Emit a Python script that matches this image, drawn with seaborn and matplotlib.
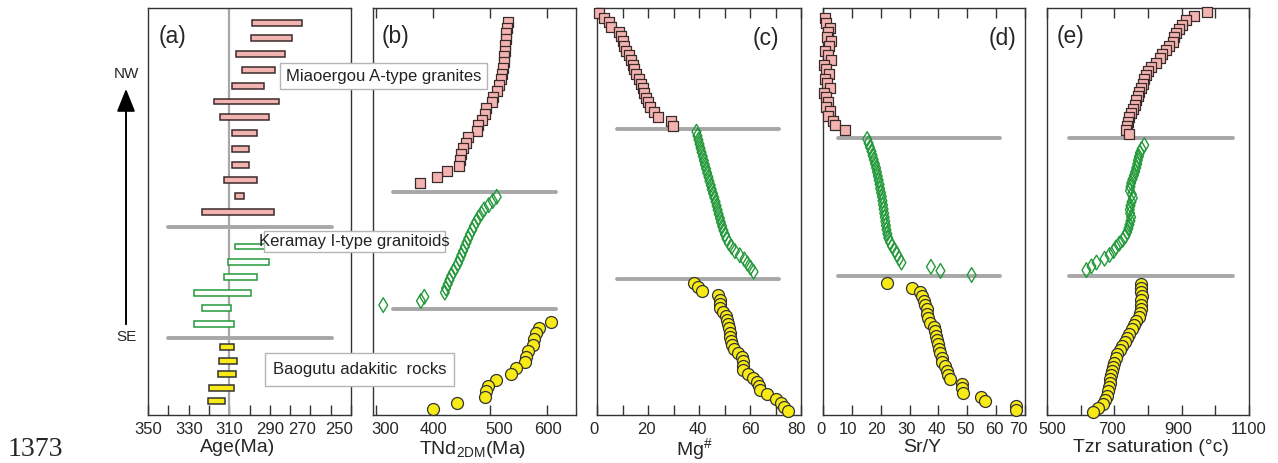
import numpy as np
import pandas as pd
import matplotlib
matplotlib.use("Agg")
import matplotlib.pyplot as plt
import seaborn as sns
from matplotlib.patches import Rectangle, FancyArrowPatch
from matplotlib.transforms import ScaledTranslation

sns.set_theme(style="white")
plt.rcParams["font.family"] = ["Liberation Sans", "DejaVu Sans"]
plt.rcParams["mathtext.fontset"] = "custom"
plt.rcParams["mathtext.rm"] = "Liberation Sans"
plt.rcParams["mathtext.it"] = "Liberation Sans:italic"

# ---------------- data ----------------
group_names = ["Miaoergou A-type granites", "Keramay I-type granitoids", "Baogutu adakitic  rocks"]

# (a) zircon ages (Ma): older and younger ends of each bar, top to bottom
age_old_mia = [298.6, 299.4, 306.5, 303.7, 308.8, 317.5, 314.7, 308.8, 308.8, 308.8, 312.6, 307.0, 323.4]
age_young_mia = [274.3, 279.2, 282.5, 287.4, 292.7, 285.6, 290.5, 296.5, 300.4, 300.4, 296.5, 302.7, 287.8]
age_old_ker = [307.0, 310.4, 312.4, 327.3, 323.4, 327.3]
age_young_ker = [290.7, 290.2, 296.3, 299.4, 309.0, 307.5]
age_old_bao = [314.5, 314.9, 315.4, 319.8, 320.3]
age_young_bao = [307.5, 306.0, 306.8, 307.8, 312.2]
age_ref = 310

# (b) TNd2DM (Ma)
tnd_mia = [531, 530, 529, 528, 527, 526, 525, 524, 523, 522, 520, 516, 512, 505, 503,
           494, 491, 486, 480, 478, 462, 458, 452, 449, 447, 446, 425, 407, 377]
tnd_ker = [512, 505, 498, 490, 485, 480, 476, 472, 469, 465, 462, 459, 456, 453,
           450, 447, 444, 440, 436, 432, 429, 426, 423, 421, 385, 379, 313]
tnd_bao = [607, 586, 580, 577, 575, 567, 564, 562, 545, 537, 511, 497, 493, 491, 443, 400]

# (c) Mg#
mg_mia = [0.8, 2.8, 4.7, 5.4, 8.7, 9.4, 10.0, 10.7, 11.5, 12.6, 13.3, 14.0, 14.6,
          15.3, 16.5, 17.3, 17.9, 18.6, 19.2, 19.9, 20.6, 22.5, 23.8, 29.1, 29.8]
mg_ker = [39.0, 39.4, 39.8, 40.2, 40.6, 41.0, 41.5, 41.9, 42.3, 42.8, 43.2, 43.7,
          44.1, 44.6, 45.0, 45.5, 46.0, 46.5, 46.9, 47.3, 47.7, 48.2, 48.6, 49.1,
          49.6, 50.2, 50.8, 51.7, 52.8, 54.1, 56.0, 57.8, 59.0, 60.2, 61.4]
mg_bao = [37.9, 39.5, 41.2, 47.5, 48.2, 48.3, 48.4, 49.6, 50.7, 51.0, 51.2, 51.6,
          52.0, 52.2, 52.5, 53.0, 53.8, 55.3, 56.8, 57.1, 57.3, 57.4, 59.3, 61.0,
          62.9, 63.6, 63.9, 66.8, 70.3, 72.0, 73.5, 74.8]

# (d) Sr/Y
sry_mia = [0.8, 1.2, 2.3, 1.9, 1.5, 2.8, 2.2, 0.6, 1.7, 2.6, 0.4, 1.1, 2.0, 0.8,
           1.4, 2.3, 0.5, 1.0, 1.6, 0.9, 2.4, 1.7, 3.5, 4.3, 7.7]
sry_ker = [15.3, 15.8, 16.3, 16.8, 17.2, 17.6, 18.0, 18.4, 18.7, 19.0, 19.3, 19.6,
           19.8, 20.1, 20.4, 20.6, 20.8, 21.0, 21.2, 21.4, 21.6, 21.8, 22.0, 22.3,
           22.6, 23.2, 23.9, 24.9, 25.6, 26.4, 27.2, 37.4, 40.7, 51.5]
sry_bao = [22.3, 30.7, 33.6, 34.3, 34.9, 35.3, 35.9, 36.1, 36.4, 37.0, 38.4, 38.8,
           39.3, 39.6, 39.9, 40.2, 40.7, 41.1, 41.4, 42.2, 42.8, 43.4, 43.9, 48.2,
           48.3, 48.4, 54.6, 56.3, 66.8, 67.0]

# (e) Zircon saturation temperature (°C)
tzr_mia = [976, 937, 912, 902, 892, 883, 877, 873, 863, 853, 843, 835, 824, 809,
           800, 794, 789, 784, 779, 774, 769, 765, 760, 755, 750, 745, 740, 738, 735, 745]
tzr_ker = [789, 781, 776, 773, 770, 768, 765, 762, 758, 754, 750, 748, 746, 752,
           755, 751, 748, 746, 747, 750, 748, 745, 742, 738, 733, 725, 715, 705,
           698, 686, 671, 647, 632, 617]
tzr_bao = [779, 779, 780, 781, 780, 779, 778, 776, 772, 765, 758, 752, 745, 738,
           731, 724, 716, 709, 704, 700, 697, 694, 691, 688, 686, 683, 680, 677,
           673, 665, 650, 637]

# tick values / labels
ticks_a = [350, 330, 310, 290, 270, 250]
ticks_b = [300, 400, 500, 600]
ticks_c = [0, 20, 40, 60, 80]
ticks_d = [0, 10, 20, 30, 40, 50, 60, 70]
ticks_e = [500, 700, 900, 1100]

# ---------------- styles / layout ----------------
PINK, PINK_EDGE = "#f3b4b1", "#3a2a2a"
GREEN = "#23993a"
YELLOW, YEL_EDGE = "#f7ea17", "#333333"
LINE_GRAY = "#a7a7a7"
SPINE = "#333333"

W, H = 1278, 463
fig = plt.figure(figsize=(W / 100, H / 100), dpi=100)
fig.patch.set_facecolor("white")

def axrect(left, right, top=8, bottom=415):
    return [left / W, 1 - bottom / H, (right - left) / W, (bottom - top) / H]

axA = fig.add_axes(axrect(148, 351))
axB = fig.add_axes(axrect(373, 576))
axC = fig.add_axes(axrect(597, 801))
axD = fig.add_axes(axrect(823, 1025))
axE = fig.add_axes(axrect(1047, 1249))

# vertical extents (axes fraction from top) of each group, and separator lines
spans = {
    "A": [(0.036, 0.501), (0.586, 0.776), (0.834, 0.966)],
    "B": [(0.034, 0.430), (0.464, 0.730), (0.771, 0.985)],
    "C": [(0.012, 0.290), (0.304, 0.648), (0.676, 0.990)],
    "D": [(0.025, 0.300), (0.322, 0.656), (0.676, 0.988)],
    "E": [(0.010, 0.310), (0.337, 0.644), (0.678, 0.993)],
}
seps = {
    "A": ((0.538, 0.811), (0.10, 0.905)),
    "B": ((0.452, 0.740), (0.10, 0.90)),
    "C": ((0.297, 0.666), (0.098, 0.89)),
    "D": ((0.319, 0.658), (0.074, 0.876)),
    "E": ((0.319, 0.658), (0.11, 0.92)),
}

def base_axis(ax, key, label, panel_label, label_pos, label_x, label_y=-0.059):
    ax.set_facecolor("white")
    ax.set_ylim(1, 0)
    ax.set_yticks([])
    ax.set_ylabel("")
    for s in ax.spines.values():
        s.set_color(SPINE)
        s.set_linewidth(1.0)
        s.set_visible(True)
    (y1, y2), (x0, x1) = seps[key]
    for yy in (y1, y2):
        ax.axhline(yy, xmin=x0, xmax=x1, color=LINE_GRAY, lw=2.8, zorder=1)
    ax.set_xlabel(label, fontsize=14)
    ax.xaxis.set_label_coords(label_x, label_y)
    ax.text(label_pos[0], label_pos[1], panel_label, transform=ax.transAxes,
            fontsize=16.5, ha="center", va="center")
    ax.tick_params(axis="x", which="both", direction="in", length=7, width=1,
                   color=SPINE, labelsize=12, pad=5)

def stack(ax, values, span, **kw):
    y = np.linspace(span[0], span[1], len(values))
    df = pd.DataFrame({"v": values, "y": y})
    sns.scatterplot(data=df, x="v", y="y", ax=ax, legend=False, clip_on=False,
                    zorder=3, **kw)
    ax.set_xlabel("")
    ax.set_ylabel("")

sq = dict(marker="s", s=62, color=PINK, edgecolor=PINK_EDGE, linewidth=0.9)
dm = dict(marker="d", s=56, color=GREEN, facecolor="none", edgecolor=GREEN, linewidth=1.0)
ci = dict(marker="o", s=74, color=YELLOW, edgecolor=YEL_EDGE, linewidth=0.9)

# ---- (a) ages ----
axA.axvline(age_ref, color=LINE_GRAY, lw=1.6, zorder=1)
bar_h = 0.0145
for olds, youngs, span, fc, ec in [
    (age_old_mia, age_young_mia, spans["A"][0], PINK, PINK_EDGE),
    (age_old_ker, age_young_ker, spans["A"][1], "white", GREEN),
    (age_old_bao, age_young_bao, spans["A"][2], YELLOW, YEL_EDGE),
]:
    y = np.linspace(span[0], span[1], len(olds))
    o = np.array(olds)
    yg = np.array(youngs)
    axA.barh(y, o - yg, left=yg, height=bar_h, color=fc, edgecolor=ec,
             linewidth=1.1, zorder=3)
axA.set_xlim(350, 250)
base_axis(axA, "A", "Age(Ma)", "(a)", (0.12, 0.93), 0.44)
axA.set_xticks(ticks_a)
axA.set_xticks([340, 320, 300, 280, 260], minor=True)
axA.tick_params(axis="x", which="both", bottom=True, top=False)

# ---- (b) TNd2DM ----
stack(axB, tnd_mia, spans["B"][0], **sq)
stack(axB, tnd_ker, spans["B"][1], **dm)
stack(axB, tnd_bao, spans["B"][2], **ci)
axB.set_xlim(295, 651)
base_axis(axB, "B", r"TNd$_{\mathregular{2DM}}$(Ma)", "(b)", (0.11, 0.93), 0.49)
axB.set_xticks(ticks_b)
axB.tick_params(axis="x", which="both", bottom=True, top=True)

# ---- (c) Mg# ----
stack(axC, mg_mia, spans["C"][0], **sq)
stack(axC, mg_ker, spans["C"][1], **dm)
stack(axC, mg_bao, spans["C"][2], **ci)
axC.set_xlim(0, 80)
base_axis(axC, "C", r"Mg$^{\#}$", "(c)", (0.83, 0.925), 0.475, label_y=-0.052)
axC.set_xticks(ticks_c)
axC.set_xticks([10, 30, 50, 70], minor=True)
axC.tick_params(axis="x", which="both", bottom=True, top=True)

# ---- (d) Sr/Y ----
stack(axD, sry_mia, spans["D"][0], **sq)
stack(axD, sry_ker, spans["D"][1], **dm)
stack(axD, sry_bao, spans["D"][2], **ci)
axD.set_xlim(0, 70)
base_axis(axD, "D", "Sr/Y", "(d)", (0.89, 0.925), 0.49)
axD.set_xticks(ticks_d)
axD.tick_params(axis="x", which="both", bottom=True, top=True)

# ---- (e) Tzr ----
stack(axE, tzr_mia, spans["E"][0], **sq)
stack(axE, tzr_ker, spans["E"][1], **dm)
stack(axE, tzr_bao, spans["E"][2], **ci)
axE.set_xlim(500, 1100)
base_axis(axE, "E", "Tzr saturation (°c)", "(e)", (0.115, 0.93), 0.515)
axE.set_xticks(ticks_e)
axE.set_xticks([600, 800, 1000], minor=True)
axE.tick_params(axis="x", which="both", bottom=True, top=True)

# small horizontal nudges of tick labels, as placed in the original figure (px)
label_nudges = {
    axA: [0, 1, 0, 0, -8, -12],
    axB: [9, 1, 9, 1],
    axC: [-3, -2, -1, 0, -5],
    axD: [-2, -4, -4, -3, -2, -2, -2, -7],
    axE: [5, -2, -3, 0],
}
fig.canvas.draw()
for ax, nudges in label_nudges.items():
    ticks = ax.xaxis.get_major_ticks()
    for tk, dx in zip(ticks, nudges):
        if dx:
            tk.label1.set_transform(tk.label1.get_transform() +
                                    ScaledTranslation(dx / 100, 0, fig.dpi_scale_trans))

# ---- group label boxes (figure pixel layout) ----
boxes = [(280, 487, 63, 89), (264, 445, 231, 252), (265, 454, 353, 386)]
for name, (x0, x1, y0, y1) in zip(group_names, boxes):
    rect = Rectangle((x0 / W, 1 - y1 / H), (x1 - x0) / W, (y1 - y0) / H,
                     transform=fig.transFigure, facecolor="white",
                     edgecolor="#b5b5b5", linewidth=1.0, zorder=5)
    fig.add_artist(rect)
    fig.text((x0 + x1) / 2 / W, 1 - (y0 + y1) / 2 / H, name, fontsize=12,
             ha="center", va="center", zorder=6, color="#222222")

# ---- NW / SE arrow ----
arrow = FancyArrowPatch((126 / W, 1 - 327 / H), (126 / W, 1 - 86 / H),
                        transform=fig.transFigure,
                        arrowstyle="-|>,head_width=0.4,head_length=1.0",
                        mutation_scale=14, color="black", lw=1.4)
fig.add_artist(arrow)
fig.text(126 / W, 1 - 74 / H, "NW", fontsize=11, ha="center", va="center")
fig.text(126 / W, 1 - 337 / H, "SE", fontsize=11, ha="center", va="center")

fig.text(35 / W, 1 - 450 / H, "1373", fontsize=20, ha="center", va="center",
         family=["Liberation Serif", "DejaVu Serif"])

fig.savefig("out.png", dpi=100, facecolor="white")
